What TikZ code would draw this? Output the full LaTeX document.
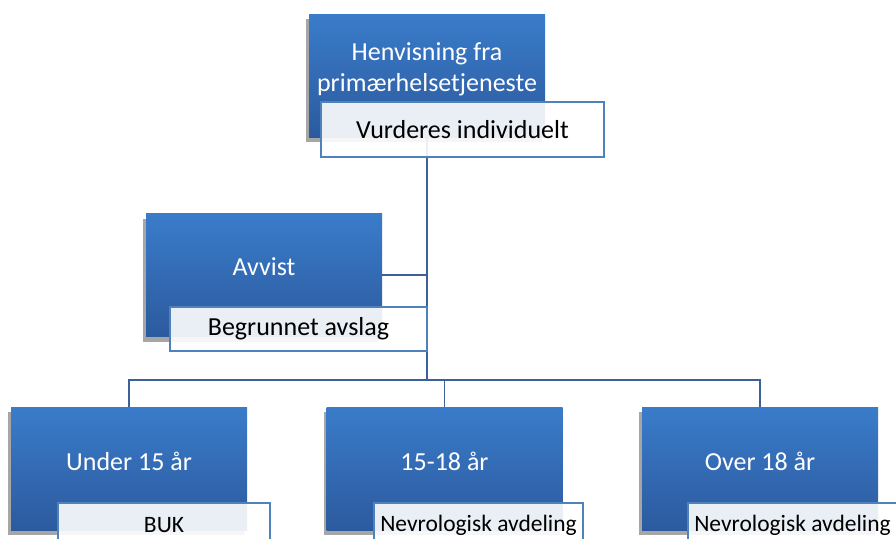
\documentclass[tikz,border=0pt]{standalone}
\usepackage{fontspec}
\setmainfont{Carlito}
\usetikzlibrary{shadows}

\definecolor{boxtop}{RGB}{58,124,202}
\definecolor{boxbot}{RGB}{44,90,158}
\definecolor{linkcol}{RGB}{60,96,152}
\definecolor{framecol}{RGB}{79,129,189}

\tikzset{every picture/.style={line width=0.75pt}}
\tikzset{
  bluebox/.style={rectangle, top color=boxtop, bottom color=boxbot, minimum width=236pt, minimum height=123pt, inner sep=0pt,
    drop shadow={shadow xshift=-3pt, shadow yshift=-5pt, fill=black, opacity=0.35}},
  whitebox/.style={rectangle, draw=framecol, line width=1.5pt, fill=white, fill opacity=0.9, text opacity=1, minimum height=44pt, inner sep=0pt, font=\fontsize{26}{31}\selectfont},
  smallwhite/.style={whitebox, minimum width=209pt, font=\fontsize{23.5}{28}\selectfont},
  bluetext/.style={text=white, align=center, font=\fontsize{26}{31}\selectfont},
  link/.style={draw=linkcol, line width=1.5pt}
}

\begin{document}
\begin{tikzpicture}[x=1pt,y=1pt,yscale=-1,xscale=1]
\useasboundingbox (0,0) rectangle (896,538);
\clip (0,0) rectangle (896,538);

% Blue boxes
\node[bluebox] (hen) at (427,75.5) {};
\node[bluebox] (avv) at (264,275) {};
\node[bluebox] (u15) at (129,468.5) {};
\node[bluebox] (m15) at (444.5,468.5) {};
\node[bluebox] (o18) at (760,468.5) {};

% Connectors
\coordinate (split) at (427,380);
\draw[link] (hen.center) -- (split);
\draw[link] (avv.east) -- (avv.east -| split);
\draw[link] (u15.north) -- (u15.north |- split) -- (o18.north |- split) -- (o18.north);
\draw[link] (m15.north |- split) -- (m15.north);

% Text Node
\node[bluetext] (hentxt) at (427,69) {Henvisning fra\\primærhelsetjeneste};
% Text Node
\node[bluetext] (avvtxt) at (264,267) {Avvist};
% Text Node
\node[bluetext] (u15txt) at (129,461) {Under 15 år};
% Text Node
\node[bluetext] (m15txt) at (444.5,461) {15-18 år};
% Text Node
\node[bluetext] (o18txt) at (760,461) {Over 18 år};

% White boxes
\node[whitebox, minimum width=283pt, minimum height=55pt] (vurd) at (462.5,129.5) {Vurderes individuelt};
\node[whitebox, minimum width=257pt] (begr) at (298.5,329) {Begrunnet avslag};
\node[smallwhite, minimum width=212pt] (buk) at (164,525) {BUK};
\node[smallwhite] (nev1) at (478.5,525) {Nevrologisk avdeling};
\node[smallwhite] (nev2) at (792.5,525) {Nevrologisk avdeling};

\end{tikzpicture}
\end{document}
